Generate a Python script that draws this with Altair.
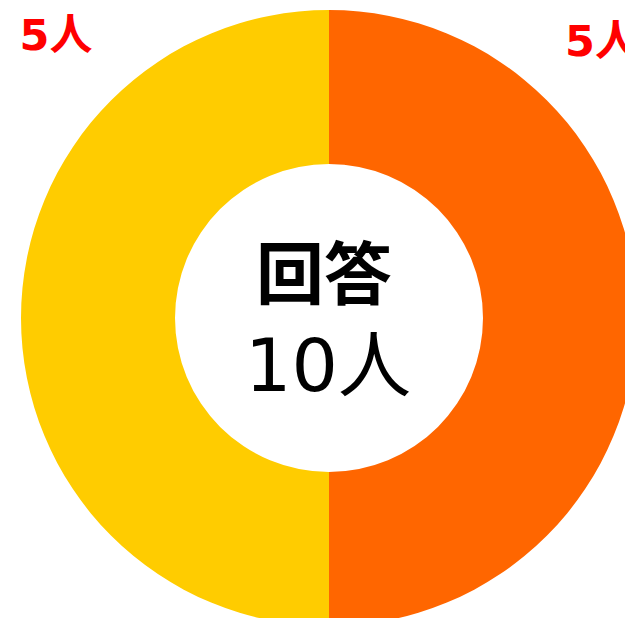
import altair as alt
import pandas as pd

categories = ["右側の回答", "左側の回答"]
counts = [5, 5]
colors = ["#FF6600", "#FFCC00"]
center_title = "回答"
total_label = "10人"

df = pd.DataFrame({
    "category": categories,
    "count": counts,
    "order": [0, 1],
    "label": [f"{c}人" for c in counts],
})

W, H = 617, 610
CX, CY = 321, 310

base = alt.Chart(df)

donut = base.mark_arc(outerRadius=308, innerRadius=154, stroke=None).encode(
    theta=alt.Theta("count:Q", stack=True),
    order=alt.Order("order:Q"),
    color=alt.Color("category:N", scale=alt.Scale(domain=categories, range=colors), legend=None),
    x=alt.value(CX),
    y=alt.value(CY),
)

cjk = "Noto Sans CJK JP"
mixed = "DejaVu Sans, Noto Sans CJK JP"

left_label = alt.Chart(df[df["order"] == 1]).mark_text(
    font=mixed, fontSize=43, fontWeight="bold", color="#FF0000", align="center", baseline="middle"
).encode(text="label:N", x=alt.value(48), y=alt.value(29))

right_label = alt.Chart(df[df["order"] == 0]).mark_text(
    font=mixed, fontSize=43, fontWeight="bold", color="#FF0000", align="left", baseline="middle"
).encode(text="label:N", x=alt.value(557), y=alt.value(35))

center_df = pd.DataFrame({"t": [center_title, total_label], "row": [0, 1]})
line1 = alt.Chart(center_df[center_df["row"] == 0]).mark_text(
    font=cjk, fontSize=68, fontWeight="bold", color="#000000", align="center", baseline="middle"
).encode(text="t:N", x=alt.value(316), y=alt.value(271))
line2 = alt.Chart(center_df[center_df["row"] == 1]).mark_text(
    font=mixed, fontSize=73, fontWeight="normal", color="#000000", align="center", baseline="middle"
).encode(text="t:N", x=alt.value(320), y=alt.value(361))

chart = alt.layer(donut, left_label, right_label, line1, line2).properties(
    width=W, height=H, autosize=alt.AutoSizeParams(type="none"), padding=0
).configure_view(stroke=None)

chart.save("out.html", embed_options={"renderer": "svg", "actions": False})
